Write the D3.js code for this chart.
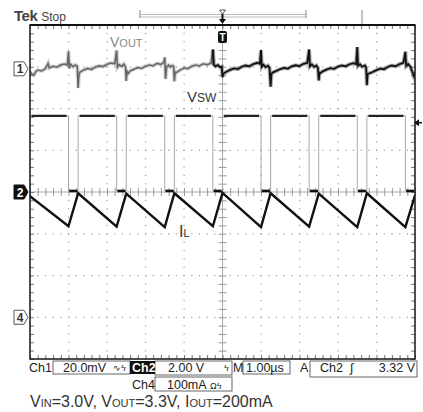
<!DOCTYPE html>
<html><head><meta charset="utf-8">
<script src="https://cdn.jsdelivr.net/npm/d3@7"></script>
<style>body{margin:0;background:#fff}svg{display:block;font-family:"Liberation Sans",Arial,sans-serif}</style>
</head><body><svg id="c" width="423" height="412"></svg>
<script>
// ---- data ----
const timeDomain = [-5, 5];            // µs, 1.00 µs/div, trigger at 0
const ch1VperDiv = 20;                 // mV/div  (VOUT, AC)
const ch2VperDiv = 2;                  // V/div   (VSW)
const ch4ImaPerDiv = 100;              // mA/div  (IL)
const ch1OffsetDiv = 2.95, ch2OffsetDiv = 0, ch4OffsetDiv = -3;
const swFallTimes = [-4.0, -2.75, -1.5, -0.25, 1.0, 2.25, 3.5, 4.75];
const swRiseTimes = [-3.75, -2.5, -1.25, 0, 1.25, 2.5, 3.75, 5.0];
const swHighV = 3.65, swLowV = 0.05;
const triggerLevelV = 3.32;
const ilData = [[-5.00,290],[-4.00,218],[-3.75,297],[-2.75,217],[-2.50,296],[-1.50,216],[-1.25,297],[-0.25,218],[0.00,298],[1.00,216],[1.25,297],[2.25,217],[2.50,296],[3.50,216],[3.75,297],[4.75,216],[5.00,292]];
const voutData = [
[-5.00,-1.2],[-4.95,-2.6],[-4.90,-3.0],[-4.85,-1.4],[-4.80,-0.6],[-4.70,-1.0],[-4.60,0.1],[-4.53,2.6],[-4.50,0.4],[-4.40,1.2],[-4.30,0.8],[-4.20,1.9],[-4.10,2.3],[-4.03,1.8],[-4.00,8.4],[-3.98,0.2],[-3.94,2.2],[-3.88,1.0],[-3.82,1.9],[-3.77,1.3],[-3.75,-9.2],[-3.73,-2.8],
[-3.70,-1.6],[-3.60,-0.5],[-3.50,0.2],[-3.40,-0.3],[-3.30,0.9],[-3.20,1.4],[-3.10,1.1],[-3.00,2.2],[-2.90,2.8],[-2.80,2.4],[-2.75,8.8],[-2.73,0.8],[-2.68,2.0],[-2.62,1.2],[-2.56,2.3],[-2.52,1.0],[-2.50,-5.8],[-2.48,-1.2],
[-2.45,-2.2],[-2.40,-1.0],[-2.30,-0.2],[-2.20,0.6],[-2.10,0.2],[-2.00,1.3],[-1.90,1.8],[-1.80,1.5],[-1.70,2.6],[-1.60,2.1],[-1.53,3.0],[-1.50,5.5],[-1.48,-4.8],[-1.45,1.0],[-1.40,1.8],[-1.35,0.9],[-1.30,1.6],[-1.27,1.2],[-1.25,-6.0],[-1.23,-1.5],
[-1.20,-1.8],[-1.10,-0.6],[-1.00,0.4],[-0.90,0.1],[-0.80,1.2],[-0.70,1.8],[-0.60,1.4],[-0.50,2.4],[-0.40,2.0],[-0.30,2.7],[-0.25,9.2],[-0.23,2.0],[-0.18,1.2],[-0.12,1.8],[-0.06,0.8],[-0.02,1.0],[0.00,-4.0],[0.02,-2.4],
[0.05,-2.0],[0.10,-1.4],[0.20,-0.5],[0.30,0.2],[0.40,-0.1],[0.50,1.0],[0.60,1.6],[0.70,1.2],[0.80,2.3],[0.90,2.9],[0.97,2.4],[1.00,9.0],[1.02,1.0],[1.06,2.0],[1.12,0.8],[1.18,1.5],[1.22,0.6],[1.25,-8.6],[1.27,-2.6],
[1.30,-1.8],[1.40,-1.0],[1.50,-0.1],[1.60,0.4],[1.70,0.1],[1.80,1.2],[1.90,1.7],[2.00,1.3],[2.10,2.4],[2.20,2.8],[2.25,9.3],[2.27,1.2],[2.32,2.1],[2.38,0.9],[2.44,1.6],[2.48,0.4],[2.50,-5.6],[2.52,-1.8],
[2.55,-2.0],[2.60,-1.2],[2.70,-0.4],[2.80,0.3],[2.90,0.0],[3.00,1.1],[3.10,1.6],[3.20,1.2],[3.30,2.2],[3.40,2.7],[3.47,2.2],[3.50,10.4],[3.52,1.4],[3.57,2.2],[3.63,1.0],[3.70,1.6],[3.73,0.6],[3.75,-7.8],[3.77,-2.4],
[3.80,-2.3],[3.90,-1.5],[4.00,-0.6],[4.10,0.1],[4.20,-0.2],[4.30,1.0],[4.40,1.6],[4.50,1.2],[4.60,2.3],[4.70,2.9],[4.75,8.2],[4.77,1.4],[4.82,2.3],[4.88,1.0],[4.94,-2.0],[4.97,-3.5],[5.00,-1.5]];
const acquiredUntil = -0.23;           // older (grey) part of the persistence trace
const statusRow1 = {ch1:"Ch1", ch1Set:"20.0mV", ch2:"Ch2", ch2Set:"2.00 V", m:"M", mSet:"1.00\u00b5s", a:"A", trigSrc:"Ch2", trigVal:"3.32 V"};
const statusRow2 = {ch4:"Ch4", ch4Set:"100mA"};

// ---- layout ----
const X0 = 30, X1 = 415, Y0 = 25, Y1 = 359;
const svg = d3.select("#c");
const x = d3.scaleLinear().domain(timeDomain).range([X0, X1]);
const yDiv = d3.scaleLinear().domain([4, -4]).range([Y0, Y1]);
const chScale = (perDiv, off) => d3.scaleLinear().domain([(-4 - off) * perDiv, (4 - off) * perDiv]).range([Y1, Y0]);
const y1 = chScale(ch1VperDiv, ch1OffsetDiv);
const y2 = chScale(ch2VperDiv, ch2OffsetDiv);
const y4 = chScale(ch4ImaPerDiv, ch4OffsetDiv);

// dotted graticule
const gGrid = svg.append("g").attr("fill", "#9a9a9a");
const minorX = d3.range(-5, 5.001, 0.2), minorY = d3.range(-4, 4.001, 0.2);
[-4,-3,-2,-1,1,2,3,4].forEach(t => minorY.forEach(d => gGrid.append("rect").attr("x", x(t) - 0.5).attr("y", yDiv(d) - 0.5).attr("width", 1.2).attr("height", 1.2)));
[-3,-2,-1,1,2,3].forEach(d => minorX.forEach(t => gGrid.append("rect").attr("x", x(t) - 0.5).attr("y", yDiv(d) - 0.5).attr("width", 1.2).attr("height", 1.2)));
// centre lines
svg.append("line").attr("x1", X0).attr("x2", X1).attr("y1", yDiv(0)).attr("y2", yDiv(0)).attr("stroke", "#aaa");
svg.append("line").attr("x1", x(0)).attr("x2", x(0)).attr("y1", Y0).attr("y2", Y1).attr("stroke", "#aaa");

function tickAxis(axis, tx, ty, col) {
  const g = svg.append("g").attr("transform", `translate(${tx},${ty})`).call(axis);
  g.select(".domain").remove();
  g.selectAll("text").remove();
  g.selectAll("line").attr("stroke", col);
}
const tx = d3.range(-5, 5.001, 0.2), ty = d3.range(-4, 4.001, 0.2);
tickAxis(d3.axisBottom(x).tickValues(tx).tickSize(4).tickFormat(""), 0, Y0, "#777");
tickAxis(d3.axisTop(x).tickValues(tx).tickSize(4).tickFormat(""), 0, Y1, "#777");
tickAxis(d3.axisRight(yDiv).tickValues(ty).tickSize(4).tickFormat(""), X0, 0, "#777");
tickAxis(d3.axisLeft(yDiv).tickValues(ty).tickSize(4).tickFormat(""), X1, 0, "#777");
tickAxis(d3.axisBottom(x).tickValues(tx).tickSize(4).tickFormat(""), 0, yDiv(0), "#999");
tickAxis(d3.axisTop(x).tickValues(tx).tickSize(4).tickFormat(""), 0, yDiv(0), "#999");
tickAxis(d3.axisRight(yDiv).tickValues(ty).tickSize(4).tickFormat(""), x(0), 0, "#999");
tickAxis(d3.axisLeft(yDiv).tickValues(ty).tickSize(4).tickFormat(""), x(0), 0, "#999");

// traces
svg.append("clipPath").attr("id", "clip").append("rect").attr("x", X0).attr("y", Y0).attr("width", X1 - X0).attr("height", Y1 - Y0);
const gT = svg.append("g").attr("clip-path", "url(#clip)");

// VSW
const swPts = [[timeDomain[0], swHighV]];
swFallTimes.forEach((f, i) => { swPts.push([f, swHighV], [f, swLowV], [swRiseTimes[i], swLowV], [swRiseTimes[i], swHighV]); });
const l2 = d3.line().x(d => x(d[0])).y(d => y2(d[1]));
gT.append("path").attr("d", l2(swPts)).attr("fill", "none").attr("stroke", "#a8a8a8").attr("stroke-width", 1);
const starts = [timeDomain[0], ...swRiseTimes];
swFallTimes.forEach((f, i) => {
  gT.append("path").attr("d", l2([[starts[i] + 0.04, swHighV], [f - 0.05, swHighV]])).attr("stroke", "#222").attr("stroke-width", 2.2).attr("fill", "none");
  gT.append("path").attr("d", l2([[f + 0.02, swLowV], [swRiseTimes[i] - 0.02, swLowV]])).attr("stroke", "#111").attr("stroke-width", 2.6).attr("fill", "none");
});

// IL
const l4 = d3.line().x(d => x(d[0])).y(d => y4(d[1]));
gT.append("path").attr("d", l4(ilData)).attr("fill", "none").attr("stroke", "#111").attr("stroke-width", 2.4).attr("stroke-linejoin", "miter");

// VOUT
const l1 = d3.line().x(d => x(d[0])).y(d => y1(d[1]));
const oldPart = voutData.filter(d => d[0] <= acquiredUntil + 0.03);
const newPart = voutData.filter(d => d[0] >= acquiredUntil - 0.03);
gT.append("path").attr("d", l1(oldPart)).attr("fill", "none").attr("stroke", "#888").attr("stroke-width", 4).attr("opacity", 0.35);
gT.append("path").attr("d", l1(oldPart)).attr("fill", "none").attr("stroke", "#666").attr("stroke-width", 1.6);
gT.append("path").attr("d", l1(newPart)).attr("fill", "none").attr("stroke", "#333").attr("stroke-width", 4).attr("opacity", 0.4);
gT.append("path").attr("d", l1(newPart)).attr("fill", "none").attr("stroke", "#111").attr("stroke-width", 1.8);

// frame
svg.append("rect").attr("x", X0).attr("y", Y0).attr("width", X1 - X0).attr("height", Y1 - Y0).attr("fill", "none").attr("stroke", "#222").attr("stroke-width", 1.6);
svg.append("line").attr("x1", X0).attr("x2", X1).attr("y1", Y0).attr("y2", Y0).attr("stroke", "#111").attr("stroke-width", 2.2);

// labels on traces
function label(xp, yp, big, small, col, fb, fs) {
  const t = svg.append("text").attr("x", xp).attr("y", yp).attr("fill", col);
  t.append("tspan").attr("font-size", fb).text(big);
  t.append("tspan").attr("font-size", fs).text(small);
}
label(110, 47, "V", "OUT", "#888", 14, 11);
label(187, 102, "V", "SW", "#333", 15, 12);
label(179, 237, "I", "L", "#333", 16, 11);

// channel markers
function marker(cy, txt, dark) {
  const p = `M14,${cy - 7} h10 l4,7 l-4,7 h-10 z`;
  svg.append("path").attr("d", p).attr("fill", dark ? "#111" : "#fff").attr("stroke", dark ? "#111" : "#555").attr("stroke-width", 1);
  svg.append("text").attr("x", 20).attr("y", cy + 4.5).attr("text-anchor", "middle").attr("font-size", 12).attr("font-weight", "bold").attr("fill", dark ? "#fff" : "#333").text(txt);
}
marker(y1(0), "1", false);
marker(y2(0), "2", true);
marker(y4(0), "4", false);
// trigger level arrow (right)
const ty0 = y2(triggerLevelV);
svg.append("path").attr("d", `M414,${ty0} l5,-3.5 v7 z`).attr("fill", "#111");
svg.append("line").attr("x1", 417).attr("x2", 422).attr("y1", ty0).attr("y2", ty0).attr("stroke", "#111").attr("stroke-width", 1.5);

// header
const head = svg.append("text").attr("x", 14).attr("y", 21).attr("fill", "#444");
head.append("tspan").attr("font-size", 15).attr("font-weight", "bold").attr("letter-spacing", "-0.5").text("Tek");
head.append("tspan").attr("font-size", 12).attr("dx", 4).text("Stop");
svg.append("line").attr("x1", 140).attr("x2", 306).attr("y1", 14.5).attr("y2", 14.5).attr("stroke", "#bbb");
svg.append("line").attr("x1", 140).attr("x2", 306).attr("y1", 17).attr("y2", 17).attr("stroke", "#bbb");
svg.append("line").attr("x1", 140).attr("x2", 140).attr("y1", 10).attr("y2", 18).attr("stroke", "#888");
svg.append("line").attr("x1", 306).attr("x2", 306).attr("y1", 10).attr("y2", 18).attr("stroke", "#888");
svg.append("line").attr("x1", 362).attr("x2", 362).attr("y1", 10).attr("y2", 24).attr("stroke", "#888");
const tx0 = x(0);
svg.append("path").attr("d", `M${tx0 - 3},10 h6 l-3,4 z`).attr("fill", "none").attr("stroke", "#555");
svg.append("path").attr("d", `M${tx0},14 v8`).attr("stroke", "#111").attr("stroke-width", 2);
svg.append("path").attr("d", `M${tx0 - 3.5},19 h7 l-3.5,5 z`).attr("fill", "#111");
svg.append("rect").attr("x", tx0 - 4.5).attr("y", 31).attr("width", 9).attr("height", 12).attr("rx", 2).attr("fill", "#111");
svg.append("text").attr("x", tx0).attr("y", 41).attr("text-anchor", "middle").attr("font-size", 10).attr("font-weight", "bold").attr("fill", "#fff").text("T");

// status area
const st = svg.append("g").attr("font-size", 12.5).attr("fill", "#222");
function box(x0, yA, w, h) { st.append("rect").attr("x", x0).attr("y", yA).attr("width", w).attr("height", h).attr("fill", "none").attr("stroke", "#555").attr("stroke-width", 0.9); }
box(53, 361, 77, 13);
box(155, 361, 77, 14);
box(155, 377, 77, 14);
box(243, 361, 47, 13);
box(310, 361, 107, 16);
st.append("text").attr("x", 29).attr("y", 372).text(statusRow1.ch1);
st.append("text").attr("x", 63).attr("y", 372).text(statusRow1.ch1Set);
st.append("text").attr("x", 113).attr("y", 371).attr("font-size", 9).text("\u223F\u03DF");
st.append("rect").attr("x", 130).attr("y", 361).attr("width", 25).attr("height", 13).attr("fill", "#111");
st.append("text").attr("x", 132).attr("y", 372).attr("fill", "#fff").attr("font-weight", "bold").text(statusRow1.ch2);
st.append("text").attr("x", 168).attr("y", 372).text(statusRow1.ch2Set);
st.append("text").attr("x", 224).attr("y", 371).attr("font-size", 9).text("\u03DF");
st.append("text").attr("x", 233).attr("y", 372).text(statusRow1.m);
st.append("text").attr("x", 246).attr("y", 372).text(statusRow1.mSet);
st.append("text").attr("x", 300).attr("y", 372).text(statusRow1.a);
st.append("text").attr("x", 320).attr("y", 372).text(statusRow1.trigSrc);
st.append("text").attr("x", 350).attr("y", 372).attr("font-style", "italic").text("\u222B");
st.append("text").attr("x", 415).attr("y", 372).attr("text-anchor", "end").text(statusRow1.trigVal);
st.append("text").attr("x", 132).attr("y", 389).text(statusRow2.ch4);
st.append("text").attr("x", 167).attr("y", 389).text(statusRow2.ch4Set);
st.append("text").attr("x", 210).attr("y", 389).attr("font-size", 9).text("\u03A9\u03DF");

// caption
const cap = svg.append("text").attr("x", 30).attr("y", 407).attr("fill", "#333").attr("font-size", 16);
[["V",16],["IN",11],["=3.0V, ",16],["V",16],["OUT",11],["=3.3V, ",16],["I",16],["OUT",11],["=200mA",16]].forEach(([s, f]) => cap.append("tspan").attr("font-size", f).text(s));
</script></body></html>
